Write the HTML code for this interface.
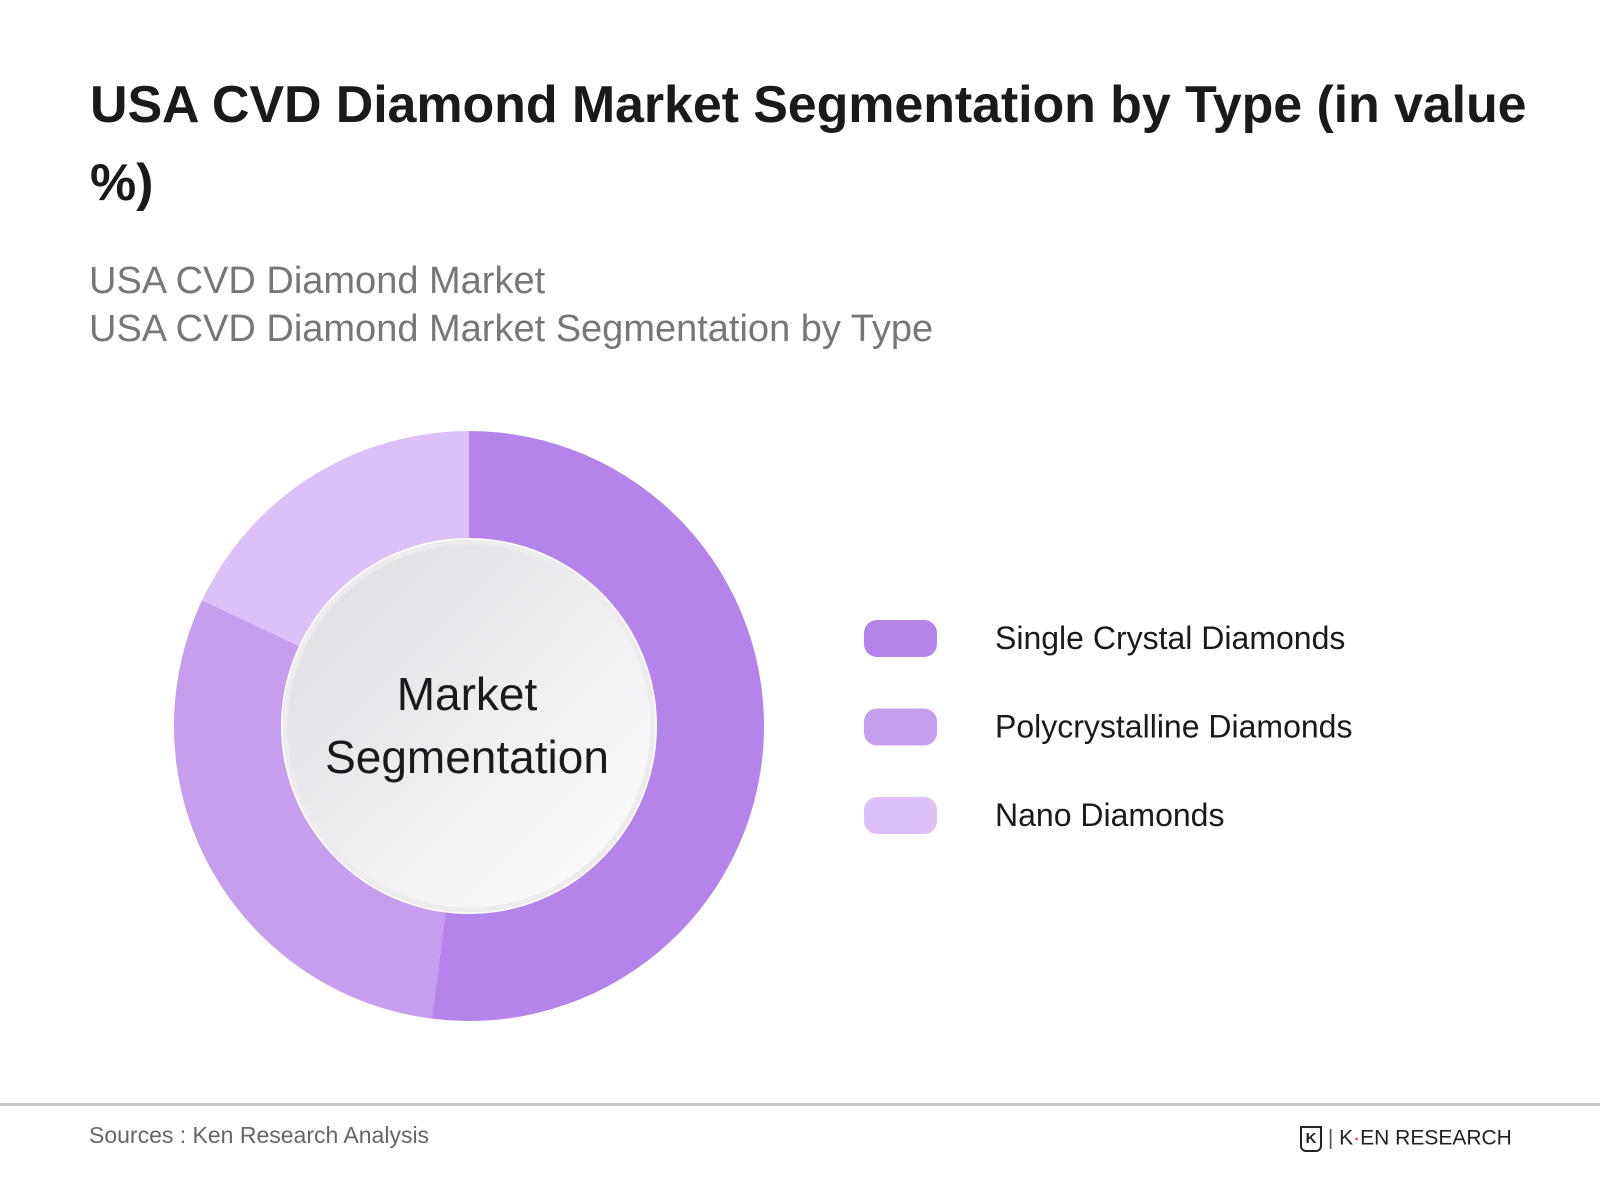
<!DOCTYPE html>
<html><head><meta charset="utf-8"><style>
body{margin:0;width:1600px;height:1200px;background:#fff;font-family:"Liberation Sans",sans-serif;overflow:hidden;position:relative}
.t{position:absolute;white-space:nowrap}
</style></head><body>
<div class="t" style="left:90px;top:66px;font-size:52px;font-weight:bold;color:#1a1a1a;line-height:78px;letter-spacing:-0.1px">USA CVD Diamond Market Segmentation by Type (in value<br>%)</div>
<div class="t" style="left:89px;top:257px;font-size:38px;color:#777;line-height:48px">USA CVD Diamond Market<br>USA CVD Diamond Market Segmentation by Type</div>
<svg id="chart" width="1600" height="1200" style="position:absolute;left:0;top:0">
<defs><linearGradient id="g" x1="0" y1="0" x2="1" y2="1"><stop offset="0" stop-color="#dcdce2"/><stop offset="1" stop-color="#ffffff"/></linearGradient></defs>
</svg>
<div style="position:absolute;left:0;top:1103px;width:1600px;height:3px;background:#c8c8c8"></div>
<div class="t" style="left:89px;top:1122px;font-size:23px;color:#666">Sources : Ken Research Analysis</div>
<div class="t" style="left:1300px;top:1126px;font-size:21px;color:#222;letter-spacing:0px">
<span style="display:inline-block;width:18px;height:22px;border:2px solid #222;border-radius:0 0 6px 6px;vertical-align:middle;font-size:15px;line-height:22px;text-align:center;font-weight:bold">K</span><span style="color:#555"> | </span>K<span style="color:#d22">·</span>EN RESEARCH</div>
<script>
const categories=["Single Crystal Diamonds","Polycrystalline Diamonds","Nano Diamonds"];
const values=[52,30,18];
const colors=["#b584ea","#c79ded","#dcc0f7"];
const svg=document.getElementById('chart');
const NS="http://www.w3.org/2000/svg";
const cx=469,cy=726,R=295,r=188;
const total=values.reduce((a,b)=>a+b,0);
function pt(a,rad){return [cx+rad*Math.sin(a),cy-rad*Math.cos(a)];}
let a0=0;
values.forEach((v,i)=>{
  const a1=a0+v/total*2*Math.PI;
  const [x0,y0]=pt(a0,R),[x1,y1]=pt(a1,R),[x2,y2]=pt(a1,r),[x3,y3]=pt(a0,r);
  const lg=(a1-a0)>Math.PI?1:0;
  const p=document.createElementNS(NS,'path');
  p.setAttribute('d',`M${x0},${y0}A${R},${R} 0 ${lg} 1 ${x1},${y1}L${x2},${y2}A${r},${r} 0 ${lg} 0 ${x3},${y3}Z`);
  p.setAttribute('fill',colors[i]);
  
  
  svg.appendChild(p);
  a0=a1;
  const ly=638+i*88.5;
  const sw=document.createElementNS(NS,'rect');
  sw.setAttribute('x',864);sw.setAttribute('y',ly-18);sw.setAttribute('width',73);sw.setAttribute('height',37);sw.setAttribute('rx',13);sw.setAttribute('fill',colors[i]);
  
  
  svg.appendChild(sw);
  const t=document.createElementNS(NS,'text');
  t.setAttribute('x',995);t.setAttribute('y',ly+11);t.setAttribute('font-size',32);t.setAttribute('fill','#1a1a1a');t.setAttribute('font-family','Liberation Sans, sans-serif');
  t.textContent=categories[i];
  
  
  svg.appendChild(t);
});
const c=document.createElementNS(NS,'circle');
c.setAttribute('cx',cx);c.setAttribute('cy',cy);c.setAttribute('r',184);c.setAttribute('fill','url(#g)');c.setAttribute('stroke','#ececec');c.setAttribute('stroke-width',5);


svg.appendChild(c);
["Market","Segmentation"].forEach((s,i)=>{
  const t=document.createElementNS(NS,'text');
  t.setAttribute('x',cx-2);t.setAttribute('y',710+i*63);t.setAttribute('font-size',46);t.setAttribute('text-anchor','middle');t.setAttribute('fill','#1a1a1a');t.setAttribute('font-family','Liberation Sans, sans-serif');
  t.textContent=s;
  
  
  svg.appendChild(t);
});
</script>
</body></html>
